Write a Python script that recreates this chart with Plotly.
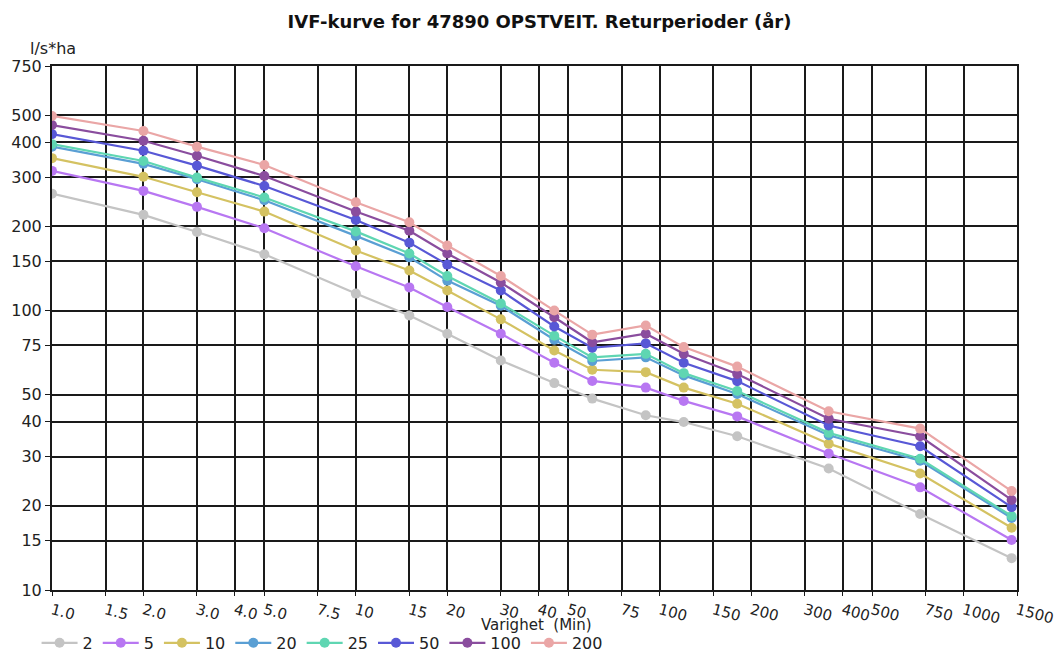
import plotly.graph_objects as go

durations = [1, 2, 3, 5, 10, 15, 20, 30, 45, 60, 90, 120, 180, 360, 720, 1440]

series_names = ["2", "5", "10", "20", "25", "50", "100", "200"]
t2 = [262, 220, 191, 159, 115, 96, 82.6, 66.3, 55, 48.4, 42.2, 39.9, 35.5, 27.2, 18.7, 13.0]
t5 = [316, 268, 235, 197, 144, 121, 103, 82.6, 65, 56, 53, 47.5, 41.8, 30.8, 23.3, 15.1]
t10 = [351, 301, 265, 226, 164, 139, 118, 93, 72, 61.4, 60.2, 53, 46.4, 33.4, 26.1, 16.7]
t20 = [386, 335, 295, 248, 185, 155, 128, 104, 78.6, 66, 68, 58.6, 50.3, 35.8, 29.0, 18.1]
t25 = [394, 343, 299, 254, 192, 160, 133, 106, 81.3, 68, 70, 59.7, 51.5, 36.5, 29.5, 18.4]
t50 = [428, 373, 330, 279, 211, 175, 146, 118, 87.7, 73.6, 76.3, 65, 55.9, 38.8, 32.7, 19.8]
t100 = [461, 405, 358, 303, 226, 193, 160, 126, 94.6, 77, 82.6, 70, 59.3, 41, 35.5, 21]
t200 = [497, 439, 386, 332, 244, 207, 171, 133, 100, 82, 88.4, 74, 63, 43.6, 37.8, 22.6]
series_values = [t2, t5, t10, t20, t25, t50, t100, t200]
colors = ["#c4c4c4", "#b877f2", "#d4c262", "#5a9fd4", "#5fd6b2", "#5858d6", "#8a4d9e", "#eaa6a6"]

x_tickvals = [1, 1.5, 2, 3, 4, 5, 7.5, 10, 15, 20, 30, 40, 50, 75, 100, 150, 200, 300, 400, 500, 750, 1000, 1500]
x_ticktext = ["1.0", "1.5", "2.0", "3.0", "4.0", "5.0", "7.5", "10", "15", "20", "30", "40", "50", "75",
              "100", "150", "200", "300", "400", "500", "750", "1000", "1500"]
y_tickvals = [10, 15, 20, 30, 40, 50, 75, 100, 150, 200, 300, 400, 500, 750]
y_ticktext = [str(v) for v in y_tickvals]

title_text = "IVF-kurve for 47890 OPSTVEIT. Returperioder (år)"
x_title = "Varighet  (Min)"
y_title = "l/s*ha"

font_family = "DejaVu Sans"
text_color = "#222222"

fig = go.Figure()
for name, vals, col in zip(series_names, series_values, colors):
    fig.add_trace(go.Scatter(
        x=durations, y=vals, name=name, mode="lines+markers",
        line=dict(color=col, width=2.2),
        marker=dict(color=col, size=10, symbol="circle"),
    ))

fig.update_layout(
    width=1063, height=664,
    margin=dict(l=44, r=54, t=58, b=82),
    paper_bgcolor="white", plot_bgcolor="white",
    font=dict(family=font_family, size=15, color=text_color),
    title=dict(text="<b>" + title_text + "</b>", x=0.5, xanchor="center",
               y=1 - 14 / 664, yanchor="middle",
               font=dict(family=font_family, size=18, color="#111111")),
    showlegend=True,
    legend=dict(orientation="h", x=-0.016, xanchor="left", y=-0.101, yanchor="middle",
                font=dict(family=font_family, size=16, color=text_color),
                itemwidth=36, tracegroupgap=0, bgcolor="rgba(0,0,0,0)"),
    annotations=[
        dict(text=y_title, xref="paper", yref="paper", x=-0.0249, y=1.034,
             xanchor="left", yanchor="middle", showarrow=False,
             font=dict(family=font_family, size=16, color=text_color)),
        dict(text=x_title, xref="paper", yref="paper", x=0.502, y=-0.066,
             xanchor="center", yanchor="middle", showarrow=False,
             font=dict(family=font_family, size=15, color=text_color)),
    ],
)

fig.update_xaxes(
    type="log", range=[0, 3.1761], automargin=False,
    tickmode="array", tickvals=x_tickvals, ticktext=x_ticktext, tickangle=15,
    showgrid=True, gridcolor="#1a1a1a", gridwidth=2,
    showline=True, linecolor="#1a1a1a", linewidth=2, mirror=True,
    ticks="outside", ticklen=4, tickcolor="#1a1a1a",
    tickfont=dict(family=font_family, size=15, color=text_color),
    zeroline=False,
)
fig.update_yaxes(
    type="log", range=[1, 2.8751], automargin=False,
    tickmode="array", tickvals=y_tickvals, ticktext=y_ticktext,
    showgrid=True, gridcolor="#1a1a1a", gridwidth=2,
    showline=True, linecolor="#1a1a1a", linewidth=2, mirror=True,
    ticks="outside", ticklen=5, tickcolor="#1a1a1a",
    tickfont=dict(family=font_family, size=16, color=text_color),
    zeroline=False,
)

fig.write_html("out.html")
